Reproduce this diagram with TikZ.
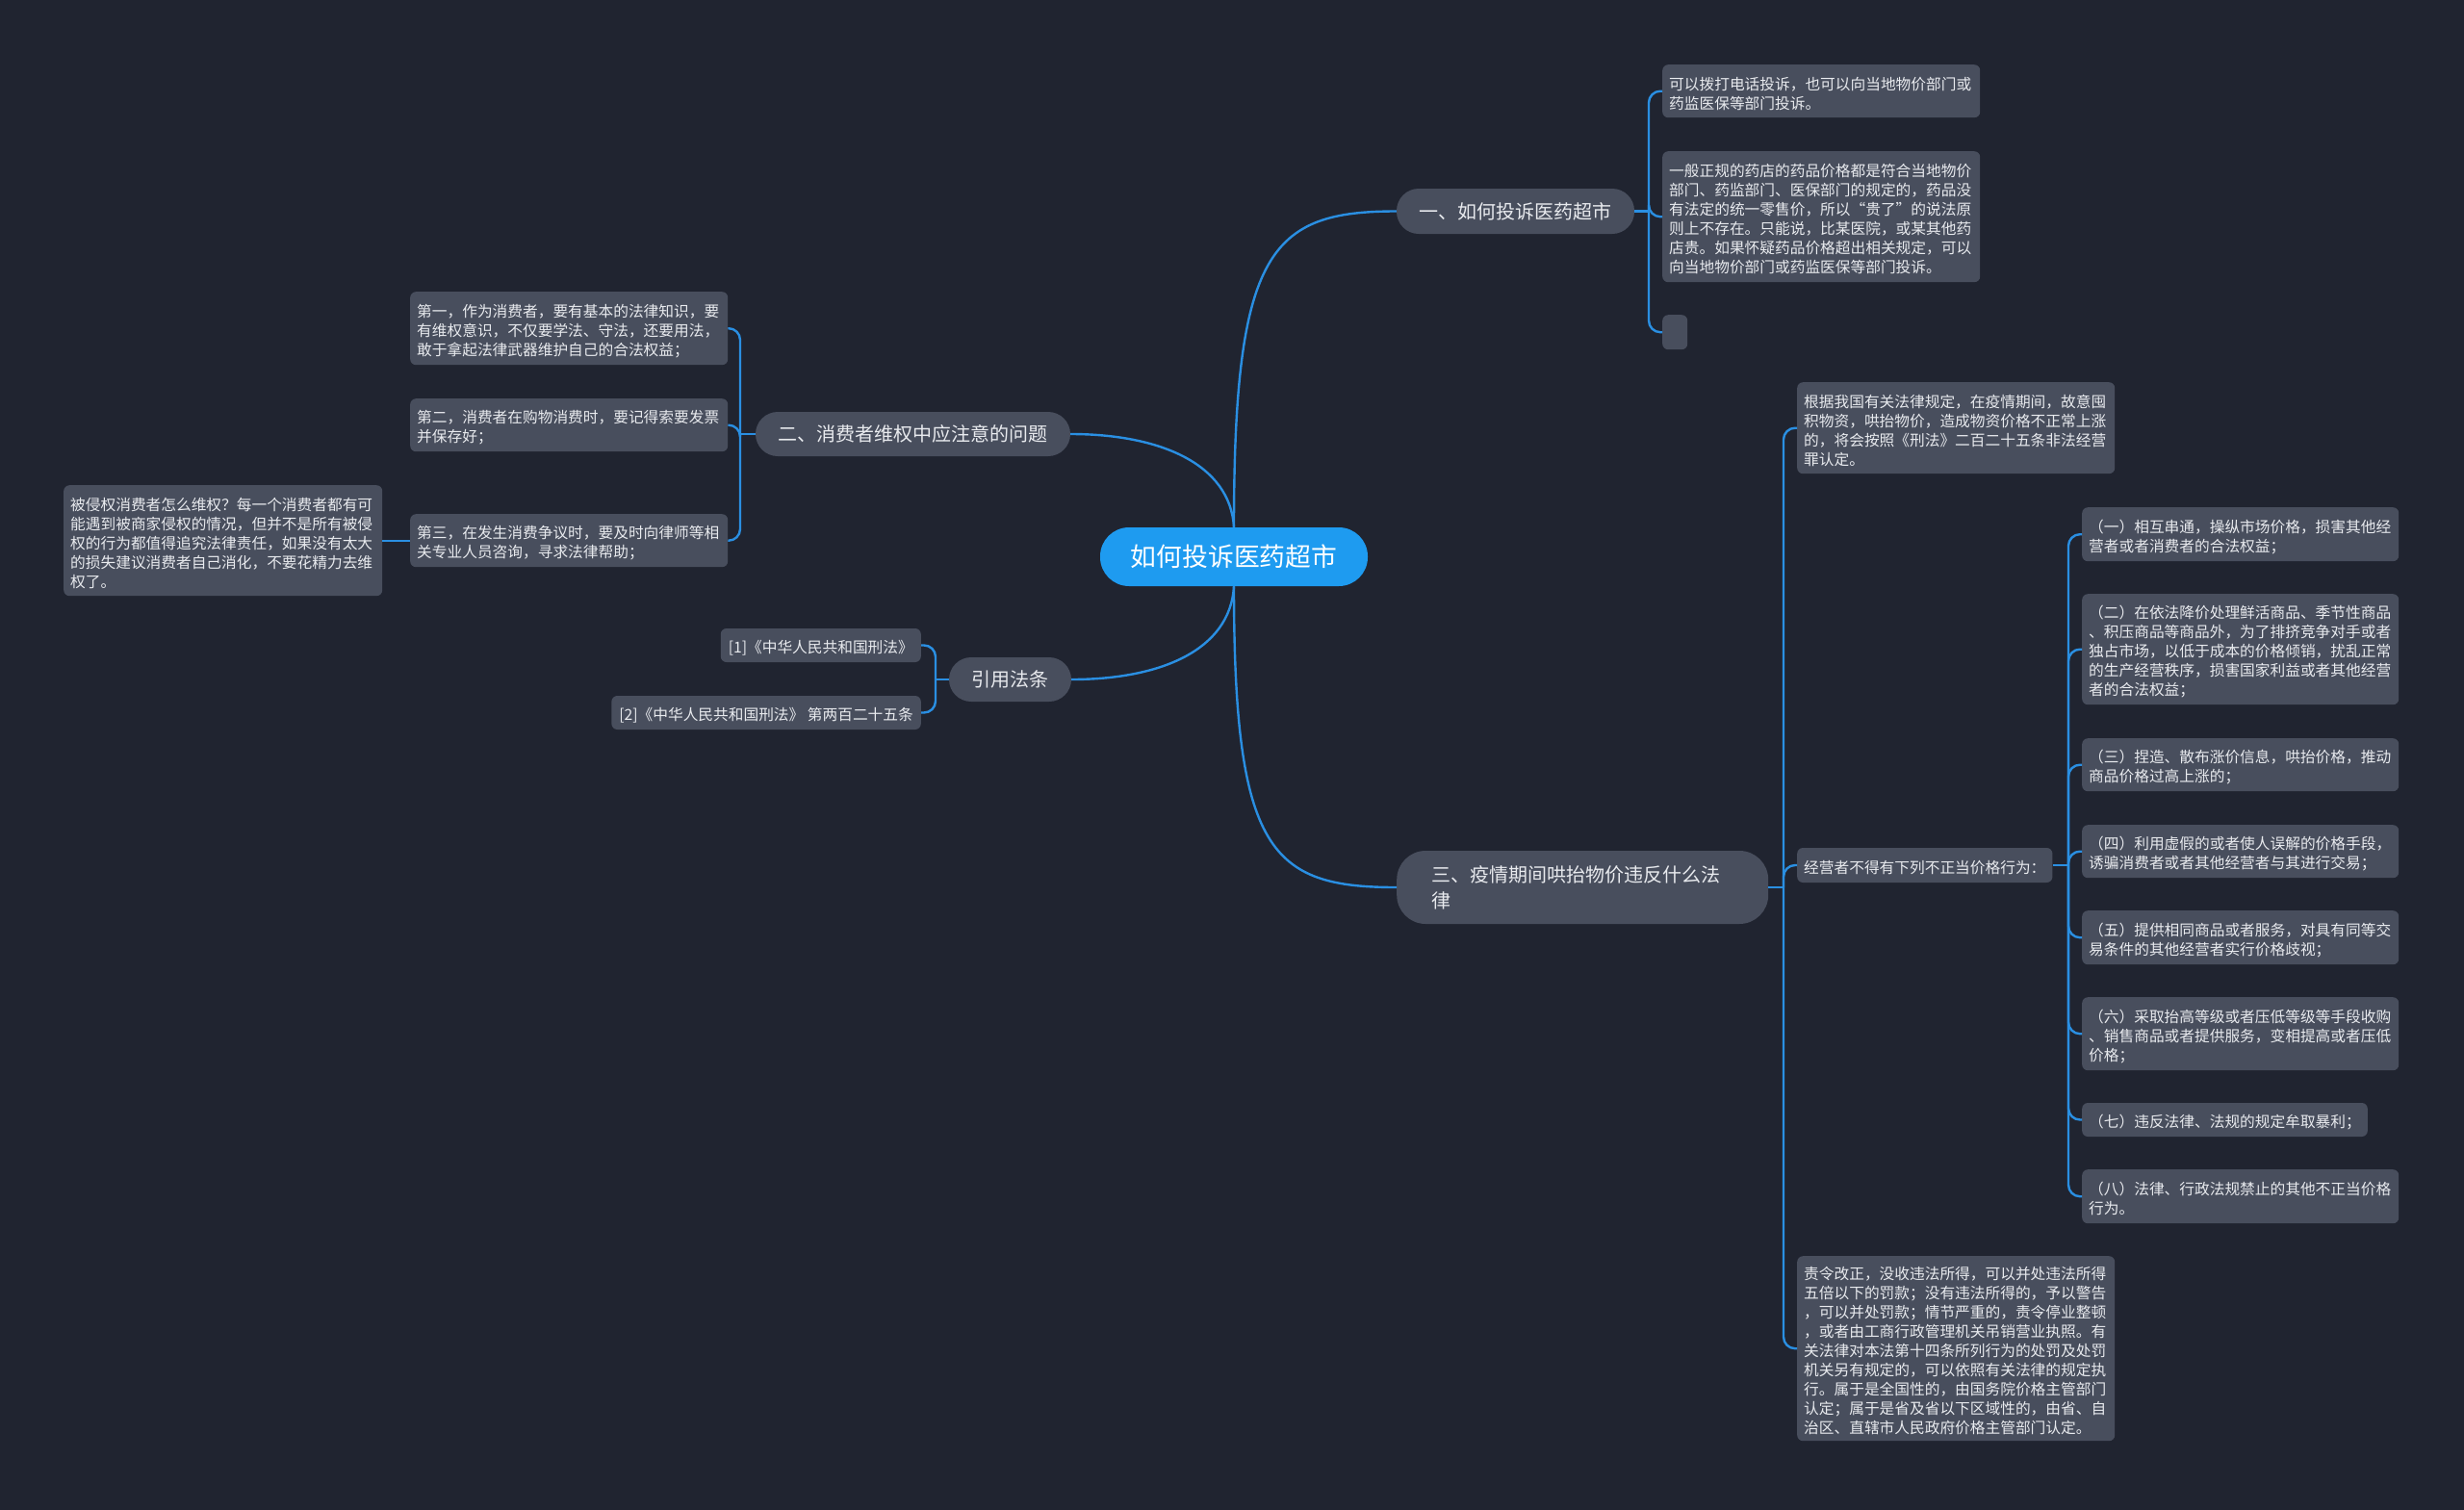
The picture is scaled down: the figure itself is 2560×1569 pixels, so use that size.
\documentclass[tikz,border=0pt]{standalone}
\usepackage{fontspec}
\setmainfont{Noto Sans CJK SC}
\newfontfamily\cjk{Noto Sans CJK SC}
\definecolor{bgc}{HTML}{202430}
\definecolor{boxc}{HTML}{484E5D}
\definecolor{txtc}{HTML}{E8EAEE}
\definecolor{linec}{HTML}{2A8FE2}
\definecolor{rootc}{HTML}{1E9BF0}
\newcommand\leaffont{\cjk\fontsize{15.7pt}{20pt}\selectfont\parindent=0pt}
\newcommand\branchfont{\cjk\fontsize{20pt}{27pt}\selectfont\parindent=0pt}
\newcommand\lstrut{\rule{0pt}{18.5pt}}
\tikzset{
  leaf/.style={fill=boxc, rounded corners=6pt, text=txtc, font=\leaffont, align=left,
    inner xsep=7pt, inner ysep=0pt, anchor=north west},
  cite/.style={fill=boxc, rounded corners=6pt, text=txtc, font=\leaffont,
    inner xsep=8pt, inner ysep=0pt, minimum height=35pt, anchor=east},
  branch/.style={fill=boxc, text=txtc, font=\branchfont, inner sep=0pt, align=center},
  conn/.style={draw=linec, line width=2.4pt},
  br/.style={conn, rounded corners=12pt}
}
\begin{document}
\begin{tikzpicture}[x=1pt,y=-1pt]
\fill[bgc] (0,0) rectangle (2560,1569);
\useasboundingbox (0,0) rectangle (2560,1569);

% root and branches
\node[fill=rootc, text=white, font={\cjk\fontsize{26.8pt}{30pt}\selectfont}, inner sep=0pt,
  minimum width=278pt, minimum height=61pt, rounded corners=30pt] (root) at (1282,578.5) {如何投诉医药超市};
\node[branch, minimum width=247pt, minimum height=47pt, rounded corners=23pt] (n1) at (1574.5,219.5) {一、如何投诉医药超市};
\node[branch, minimum width=327pt, minimum height=46pt, rounded corners=23pt] (n2) at (948.5,451) {二、消费者维权中应注意的问题};
\node[branch, minimum width=127pt, minimum height=46pt, rounded corners=23pt] (n3) at (1049.5,706) {引用法条};
\node[branch, align=left, text width=314pt, inner xsep=36pt, minimum height=76pt, rounded corners=30pt, anchor=west] (n4) at (1451,922) {三、疫情期间哄抬物价违反什么法\\律};

% branch 1 leaves
\node[leaf, minimum height=55pt, text width=316pt] (a1) at (1727,67) {\lstrut 可以拨打电话投诉，也可以向当地物价部门或\\药监医保等部门投诉。};
\node[leaf, minimum height=136pt, text width=316pt] (a2) at (1727,157) {\lstrut 一般正规的药店的药品价格都是符合当地物价\\部门、药监部门、医保部门的规定的，药品没\\有法定的统一零售价，所以“贵了”的说法原\\则上不存在。只能说，比某医院，或某其他药\\店贵。如果怀疑药品价格超出相关规定，可以\\向当地物价部门或药监医保等部门投诉。};
\node[leaf, minimum height=36pt, minimum width=26pt, inner xsep=0pt] (a3) at (1727,327) {};

% branch 2 leaves
\node[leaf, minimum height=76pt, text width=316pt] (b1) at (426,303) {\lstrut 第一，作为消费者，要有基本的法律知识，要\\有维权意识，不仅要学法、守法，还要用法，\\敢于拿起法律武器维护自己的合法权益；};
\node[leaf, minimum height=55pt, text width=316pt] (b2) at (426,414) {\lstrut 第二，消费者在购物消费时，要记得索要发票\\并保存好；};
\node[leaf, minimum height=55pt, text width=316pt] (b3) at (426,534) {\lstrut 第三，在发生消费争议时，要及时向律师等相\\关专业人员咨询，寻求法律帮助；};
\node[leaf, minimum height=115pt, text width=317pt] (cb) at (66,504) {\lstrut 被侵权消费者怎么维权？每一个消费者都有可\\能遇到被商家侵权的情况，但并不是所有被侵\\权的行为都值得追究法律责任，如果没有太大\\的损失建议消费者自己消化，不要花精力去维\\权了。};

% citations
\node[cite] (c1) at (957,670.5) {\lstrut[1]《中华人民共和国刑法》};
\node[cite] (c2) at (957,740.5) {\lstrut[2]《中华人民共和国刑法》 第两百二十五条};

% branch 4 leaves
\node[leaf, minimum height=95pt, text width=316pt] (d1) at (1867,397) {\lstrut 根据我国有关法律规定，在疫情期间，故意囤\\积物资，哄抬物价，造成物资价格不正常上涨\\的，将会按照《刑法》二百二十五条非法经营\\罪认定。};
\node[leaf, minimum height=36pt, anchor=west] (d2) at (1867,899) {\lstrut 经营者不得有下列不正当价格行为：};
\node[leaf, minimum height=192pt, text width=316pt] (d3) at (1867,1305) {\lstrut 责令改正，没收违法所得，可以并处违法所得\\五倍以下的罚款；没有违法所得的，予以警告\\，可以并处罚款；情节严重的，责令停业整顿\\，或者由工商行政管理机关吊销营业执照。有\\关法律对本法第十四条所列行为的处罚及处罚\\机关另有规定的，可以依照有关法律的规定执\\行。属于是全国性的，由国务院价格主管部门\\认定；属于是省及省以下区域性的，由省、自\\治区、直辖市人民政府价格主管部门认定。};

\node[leaf, minimum height=56pt, text width=315pt] (e1) at (2163,527) {\lstrut（一）相互串通，操纵市场价格，损害其他经\\营者或者消费者的合法权益；};
\node[leaf, minimum height=115pt, text width=315pt] (e2) at (2163,617) {\lstrut（二）在依法降价处理鲜活商品、季节性商品\\、积压商品等商品外，为了排挤竞争对手或者\\独占市场，以低于成本的价格倾销，扰乱正常\\的生产经营秩序，损害国家利益或者其他经营\\者的合法权益；};
\node[leaf, minimum height=55pt, text width=315pt] (e3) at (2163,767) {\lstrut（三）捏造、散布涨价信息，哄抬价格，推动\\商品价格过高上涨的；};
\node[leaf, minimum height=55pt, text width=315pt] (e4) at (2163,857) {\lstrut（四）利用虚假的或者使人误解的价格手段，\\诱骗消费者或者其他经营者与其进行交易；};
\node[leaf, minimum height=56pt, text width=315pt] (e5) at (2163,946) {\lstrut（五）提供相同商品或者服务，对具有同等交\\易条件的其他经营者实行价格歧视；};
\node[leaf, minimum height=76pt, text width=315pt] (e6) at (2163,1036) {\lstrut（六）采取抬高等级或者压低等级等手段收购\\、销售商品或者提供服务，变相提高或者压低\\价格；};
\node[leaf, minimum height=35pt, anchor=west] (e7) at (2163,1163.5) {\lstrut（七）违反法律、法规的规定牟取暴利；};
\node[leaf, minimum height=56pt, text width=315pt] (e8) at (2163,1215) {\lstrut（八）法律、行政法规禁止的其他不正当价格\\行为。};

% root connectors
\draw[conn] (root.north) .. controls (1282,260) and (1320,219.5) .. (n1.west);
\draw[conn] (root.south) .. controls (1282,885) and (1320,922) .. (n4.west);
\draw[conn] (root.north) .. controls (1278,482) and (1205,451) .. (n2.east);
\draw[conn] (root.south) .. controls (1278,676) and (1205,706) .. (n3.east);

% junctions
\coordinate (j1) at (1713,219.5);
\coordinate (j2) at (769,451);
\coordinate (j3) at (972,706);
\coordinate (j4) at (1853,922);
\coordinate (j5) at (2149,899);

\draw[conn] (n1.east) -- (j1);
\foreach \c in {a1,a2,a3} \draw[br] (j1) |- (\c.west);
\draw[conn] (n2.west) -- (j2);
\foreach \c in {b1,b2,b3} \draw[br] (j2) |- (\c.east);
\draw[conn] (b3.west) -- (cb.east);
\draw[conn] (n3.west) -- (j3);
\foreach \c in {c1,c2} \draw[br] (j3) |- (\c.east);
\draw[conn] (n4.east) -- (j4);
\foreach \c in {d1,d2,d3} \draw[br] (j4) |- (\c.west);
\draw[conn] (d2.east) -- (j5);
\foreach \c in {e1,e2,e3,e4,e5,e6,e7,e8} \draw[br] (j5) |- (\c.west);
\end{tikzpicture}
\end{document}
